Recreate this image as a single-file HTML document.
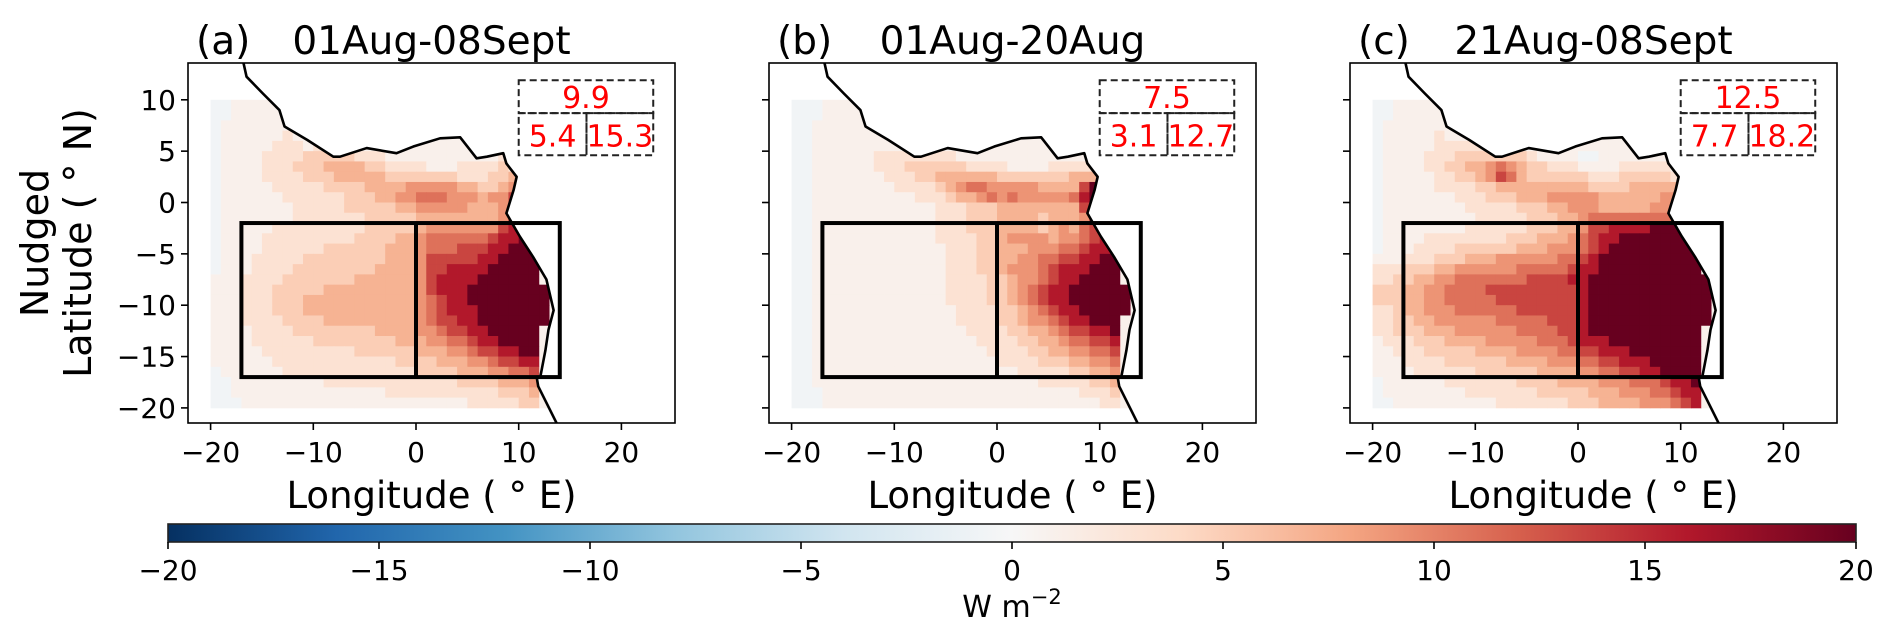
<!DOCTYPE html>
<html><head><meta charset="utf-8"><style>
html,body{margin:0;padding:0;background:#fff;}
svg text{font-family:"DejaVu Sans","Liberation Sans",sans-serif;}
</style></head><body>
<svg id="fig" width="1892" height="637" viewBox="0 0 1892 637" xmlns="http://www.w3.org/2000/svg">
<defs>
<linearGradient id="cbgrad" x1="0" x2="1" y1="0" y2="0">
<stop offset="0" stop-color="#053061"/><stop offset="0.1" stop-color="#2166ac"/><stop offset="0.2" stop-color="#4393c3"/><stop offset="0.3" stop-color="#92c5de"/><stop offset="0.4" stop-color="#d1e5f0"/><stop offset="0.5" stop-color="#f7f7f7"/><stop offset="0.6" stop-color="#fddbc7"/><stop offset="0.7" stop-color="#f4a582"/><stop offset="0.8" stop-color="#d6604d"/><stop offset="0.9" stop-color="#b2182b"/><stop offset="1" stop-color="#67001f"/>
</linearGradient>
</defs>
</svg>
<script>
// ---- data ----
const panelLabels = ["(a)", "(b)", "(c)"];
const panelTitles = ["01Aug-08Sept", "01Aug-20Aug", "21Aug-08Sept"];
const boxAll = ["9.9", "7.5", "12.5"];
const boxWest = ["5.4", "3.1", "7.7"];
const boxEast = ["15.3", "12.7", "18.2"];
const xTicks = [-20, -10, 0, 10, 20];
const yTicks = [10, 5, 0, -5, -10, -15, -20];
const cbTicks = [-20, -15, -10, -5, 0, 5, 10, 15, 20];
const levelValues = [-0.6, 1.0, 3.0, 5.0, 7.0, 9.0, 11.0, 13.5, 16.0, 20.0]; // W m-2 per grid level character
const gridA = [
"0011111111111111111111111111111111",
"0011111111111111111111111111111111",
"0111111111111111111111111111111111",
"0111111211111111111111111111111111",
"0111112221211111111111111111111111",
"0111122223333322211111111111221111",
"0111122233344443322221112222322111",
"0111122223334444433333332223343111",
"0111112222233334444555554433456111",
"0111111222222333445566655545578111",
"0111111122222333334455555444589111",
"0111111122222223333344444444589111",
"0111112222222223333345555555789911",
"0111122222222233334456666667889911",
"0111122222233333344456667778899911",
"0111222223333333344457777788999911",
"0111222233333333444457788889999911",
"1112222333333344444457888899999911",
"1112223333344444444457888999999991",
"1112223334444444444456788999999991",
"1112223334444444444456788899999991",
"1112222333344444444456778899999991",
"1111222233333333444455677889999911",
"1111222222333333334445566788999911",
"1111122222222233333344455677889911",
"1111112222222222223333444556778811",
"0111111222222222222233334445566711",
"0011111111122222222222223333444511",
"0011111111111111122222222222333411",
"0001111111111111111111111222223311"];
const gridB = [
"0001111111111111111111111111111111",
"0001111111111111111111111111111111",
"0011111111111111111111111111111111",
"0011111111111111111111111111111111",
"0011111111111111111111111111111111",
"0011111122222222111111111111111111",
"0011111122233333322221111222222111",
"0011111112223344444433333334443111",
"0011111111222234566555554444799111",
"0011111111112223445656555556899111",
"0011111111111122233344444444799111",
"0011111111111122233344443444588111",
"0011111111111122233344443454677111",
"0011111111111122223345555455678811",
"0011111111111112223344455566788811",
"0011111111111112223344556677889911",
"0011111111111112223345556788899911",
"0011111111111112222334556788999911",
"0011111111111112222334567889999991",
"0011111111111112222334567889999991",
"0011111111111111222233456788999991",
"0011111111111111222233455678899911",
"0011111111111111122223344567788911",
"0011111111111111112222334456677811",
"0011111111111111111222233445566711",
"0011111111111111111122223334455611",
"0011111111111111111111222223344511",
"0011111111111111111111112222233411",
"0001111111111111111111111111222311",
"0001111111111111111111111111112211"];
const gridC = [
"0011111111111111111111111111111111",
"0011111111111111111111111111111111",
"0111111111111111111111111111111111",
"0111112111111111111111111111111111",
"0111112222221111111111111111111111",
"0111122233333332111100111111111111",
"0111122334456543322211112222211111",
"0111112233457643333332223333322111",
"0111112222334444444443333444443111",
"0111111122233344455555444444555111",
"0111111112222233344555444445566111",
"0111111111222223334456666666667111",
"0111111112222223334457788889999911",
"0111122222222333444567889999999911",
"0111222233333344455567899999999911",
"1112223334445555556678999999999911",
"2223334455555566666788999999999911",
"2233445566666667777889999999999991",
"3334455666677777777789999999999991",
"3334455666667777777789999999999991",
"2234455566666677777789999999999991",
"2233445555556666677789999999999991",
"2233344455555566667789999999999911",
"1222333444455555666788899999999911",
"1122233333444455556677888999999911",
"1112222333333444455566778889999911",
"1111222222333333444455667788999911",
"0111111222222233334444555666788911",
"0111111112222222333334445556678811",
"0011111111112222222333444455567811"];
const grids = [gridA, gridB, gridC];
// coastline (lon, lat)
const coastLon = [-16.8,-16.5,-14.9,-13.3,-12.8,-10.6,-8.05,-7.4,-4.8,-1.9,-0.26,2.34,4.3,5.9,6.9,8.5,8.8,9.8,9.5,8.8,10.1,11.4,12.7,13.4,12.9,12.6,12.1,11.75,11.9,13.7];
const coastLat = [13.6,12.25,10.6,9.0,7.4,6.1,4.46,4.46,5.3,4.8,5.45,6.25,6.35,4.3,4.46,4.8,3.8,2.5,1.2,-1.05,-3.3,-5.3,-7.5,-10.5,-12.4,-14.4,-17,-17,-17.9,-21.5];

// ---- geometry ----
const SVGNS = "http://www.w3.org/2000/svg";
const svg = document.getElementById("fig");
const PX = 10.27;
const panelLeft = [188, 769, 1350];
const frameW = 487, frameTop = 63, frameBot = 423;
const lon0Off = 228;
const lat0Y = 202.5;
function xS(p, lon){ return panelLeft[p] + lon0Off + PX*lon; }
function yS(lat){ return lat0Y - PX*lat; }
const cmap = ["#053061","#2166ac","#4393c3","#92c5de","#d1e5f0","#f7f7f7","#fddbc7","#f4a582","#d6604d","#b2182b","#67001f"];
function hex(h){ return [parseInt(h.substr(1,2),16),parseInt(h.substr(3,2),16),parseInt(h.substr(5,2),16)]; }
function color(v){
  let t = (v + 20) / 40; t = Math.max(0, Math.min(1, t));
  const f = t * 10, i = Math.min(9, Math.floor(f)), r = f - i;
  const a = hex(cmap[i]), b = hex(cmap[i+1]);
  return "rgb(" + a.map((c,k)=>Math.round(c + (b[k]-c)*r)).join(",") + ")";
}
function mk(tag, attrs, parent){
  const e = document.createElementNS(SVGNS, tag);
  for (const k in attrs) e.setAttribute(k, attrs[k]);
  (parent || svg).appendChild(e);
  return e;
}

for (let p = 0; p < 3; p++) {
  const g = mk("g", {});
  
  
  const L = panelLeft[p];
  const defs = mk("defs", {}, g);
  const cp = mk("clipPath", {id: "ocean" + p}, defs);
  let pts = [[xS(p,-30), yS(14)]];
  for (let i = 0; i < coastLon.length; i++) pts.push([xS(p, coastLon[i]), yS(coastLat[i])]);
  pts.push([xS(p, 14), yS(-25)], [xS(p, -30), yS(-25)]);
  mk("polygon", {points: pts.map(q=>q.join(",")).join(" ")}, cp);
  const cf = mk("clipPath", {id: "frame" + p}, defs);
  mk("rect", {x: L, y: frameTop, width: frameW, height: frameBot - frameTop}, cf);

  const hm = mk("g", {"clip-path": "url(#ocean" + p + ")"}, g);
  
  
  const grid = grids[p];
  for (let r = 0; r < grid.length; r++) {
    const latTop = 10 - r;
    for (let c = 0; c < 34; c++) {
      const ch = grid[r][c];
      if (ch === undefined || ch === ".") continue;
      const v = levelValues[parseInt(ch, 10)];
      const lonL = -20 + c;
      const x0 = xS(p, lonL), x1 = xS(p, lonL + 1);
      const y0 = yS(latTop), y1 = yS(latTop - 1);
      const cell = mk("rect", {x: x0.toFixed(2), y: y0.toFixed(2), width: (x1-x0+0.4).toFixed(2), height: (y1-y0+0.4).toFixed(2), fill: color(v)}, hm);
      
      
    }
  }
  const coast = mk("polyline", {points: coastLon.map((lo,i)=>xS(p,lo)+","+yS(coastLat[i])).join(" "), fill: "none", stroke: "#000", "stroke-width": 2.6, "stroke-linejoin": "round", "clip-path": "url(#frame" + p + ")"}, g);
  
  
  const box = mk("rect", {x: xS(p,-17), y: yS(-2), width: xS(p,14)-xS(p,-17), height: yS(-17)-yS(-2), fill: "none", stroke: "#000", "stroke-width": 4}, g);
  
  
  const div = mk("line", {x1: xS(p,0), x2: xS(p,0), y1: yS(-2), y2: yS(-17), stroke: "#000", "stroke-width": 4}, g);
  
  
  const bx0 = xS(p,10), bx1 = xS(p,23.1), bxm = xS(p,16.6);
  const by0 = yS(11.9), by1 = yS(8.7), by2 = yS(4.6);
  const dash = {fill: "none", stroke: "#222", "stroke-width": 2, "stroke-dasharray": "7,4"};
  const d1 = mk("rect", Object.assign({x: bx0, y: by0, width: bx1-bx0, height: by1-by0}, dash), g);
  
  
  const d2 = mk("rect", Object.assign({x: bx0, y: by1, width: bxm-bx0, height: by2-by1}, dash), g);
  
  
  const d3 = mk("rect", Object.assign({x: bxm, y: by1, width: bx1-bxm, height: by2-by1}, dash), g);
  
  
  const t1 = mk("text", {x: (bx0+bx1)/2, y: by1 - 5, "text-anchor": "middle", "font-size": 30, fill: "#ff0000"}, g);
  t1.textContent = boxAll[p];
  
  
  const t2 = mk("text", {x: (bx0+bxm)/2, y: by2 - 9, "text-anchor": "middle", "font-size": 30, fill: "#ff0000"}, g);
  t2.textContent = boxWest[p];
  
  
  const t3 = mk("text", {x: (bxm+bx1)/2, y: by2 - 9, "text-anchor": "middle", "font-size": 30, fill: "#ff0000"}, g);
  t3.textContent = boxEast[p];
  
  
  const fr = mk("rect", {x: L, y: frameTop, width: frameW, height: frameBot-frameTop, fill: "none", stroke: "#000", "stroke-width": 1.6}, g);
  
  
  for (const t of xTicks) {
    const x = xS(p, t);
    const tk = mk("line", {x1: x, x2: x, y1: frameBot, y2: frameBot + 7, stroke: "#000", "stroke-width": 1.6}, g);
    
    
    const tl = mk("text", {x: x, y: 462, "text-anchor": "middle", "font-size": 28}, g);
    tl.textContent = (t < 0 ? "\u2212" + (-t) : String(t));
    
    
  }
  for (const t of yTicks) {
    const y = yS(t);
    const tk = mk("line", {x1: L - 7, x2: L, y1: y, y2: y, stroke: "#000", "stroke-width": 1.6}, g);
    
    
    if (p === 0) {
      const tl = mk("text", {x: L - 12, y: y + 10, "text-anchor": "end", "font-size": 28}, g);
      tl.textContent = (t < 0 ? "\u2212" + (-t) : String(t));
      
      
    }
  }
  const pl = mk("text", {x: L + 8, y: 54, "font-size": 39}, g);
  pl.textContent = panelLabels[p];
  
  
  const pt = mk("text", {x: L + frameW/2, y: 54, "text-anchor": "middle", "font-size": 39}, g);
  pt.textContent = panelTitles[p];
  
  
  const xl = mk("text", {x: L + frameW/2, y: 508, "text-anchor": "middle", "font-size": 37}, g);
  xl.textContent = "Longitude ( \u00B0 E)";
  
  
}
const yl1 = mk("text", {x: 0, y: 0, "text-anchor": "middle", "font-size": 38, transform: "translate(48,243) rotate(-90)"});
yl1.textContent = "Nudged";


const yl2 = mk("text", {x: 0, y: 0, "text-anchor": "middle", "font-size": 38, transform: "translate(91,243) rotate(-90)"});
yl2.textContent = "Latitude ( \u00B0 N)";



const cbL = 168, cbR = 1856, cbT = 524, cbB = 542;
function cbX(v){ return cbL + (v + 20) / 40 * (cbR - cbL); }
const cb = mk("rect", {x: cbL, y: cbT, width: cbR-cbL, height: cbB-cbT, fill: "url(#cbgrad)", stroke: "#222", "stroke-width": 1.6});


for (const t of cbTicks) {
  const x = cbX(t);
  const tk = mk("line", {x1: x, x2: x, y1: cbB, y2: cbB + 7, stroke: "#000", "stroke-width": 1.6});
  
  
  const tl = mk("text", {x: x, y: 580, "text-anchor": "middle", "font-size": 28});
  tl.textContent = (t < 0 ? "\u2212" + (-t) : String(t));
  
  
}
const cbl = mk("text", {x: 1012, y: 617, "text-anchor": "middle", "font-size": 30});
cbl.innerHTML = 'W m<tspan dy="-13" font-size="21">\u22122</tspan>';


</script>
</body></html>
